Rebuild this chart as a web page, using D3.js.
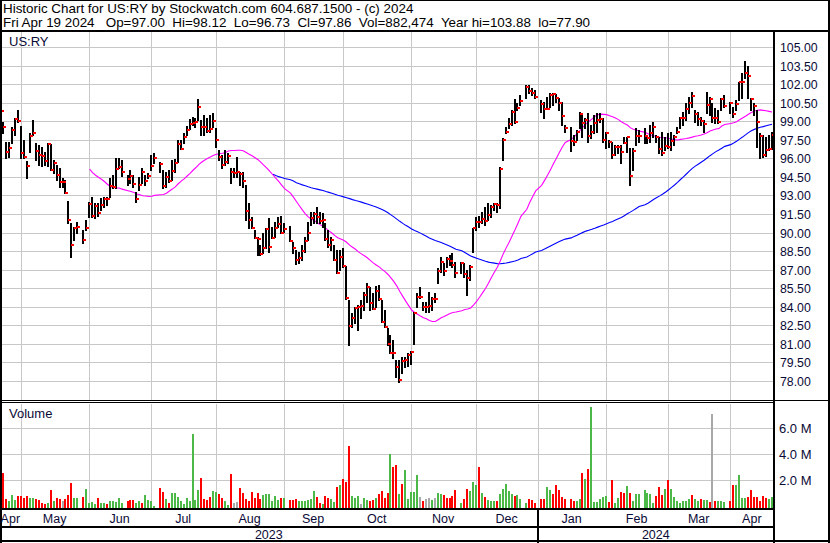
<!DOCTYPE html>
<html><head><meta charset="utf-8">
<script src="https://cdn.jsdelivr.net/npm/d3@7"></script>
<style>
body{margin:0;background:#fff}
svg{display:block}
text{font-family:"Liberation Sans",Arial,sans-serif}
</style>
</head><body>
<svg id="c" width="830" height="543"></svg>
<script>
// ---------------- DATA ----------------
const titleLine1 = "Historic Chart for US:RY by Stockwatch.com 604.687.1500 - (c) 2024";
const titleLine2 = "Fri Apr 19 2024   Op=97.00  Hi=98.12  Lo=96.73  Cl=97.86  Vol=882,474  Year hi=103.88  lo=77.90";
const symbol = "US:RY";
const weekdaySlots = 262;                 // weekdays Apr 20 2023 .. Apr 19 2024
const monthStarts = [7,30,51,73,96,116,139,161,182,205,226,247];
const monthLabels = ["Apr","May","Jun","Jul","Aug","Sep","Oct","Nov","Dec","Jan","Feb","Mar","Apr"];
const yearLabels = ["2023","2024"];
const yearStart = 182;
const priceTicks = [105,103.5,102,100.5,99,97.5,96,94.5,93,91.5,90,88.5,87,85.5,84,82.5,81,79.5,78];
const volumeTicks = [2,4,6];   // millions

const highs = [
100.05,98.96,97.34,97.34,98.51,99.24,99.91,98.61,97.48,95.78,
98.02,99.10,97.22,97.08,96.94,96.54,97.26,97.16,95.87,95.46,
95.19,94.39,94.25,92.55,90.75,90.47,90.88,null,90.21,91.02,
92.50,92.85,92.37,92.37,92.77,92.85,92.90,94.39,94.65,96.00,
96.00,95.90,null,94.65,95.06,94.65,93.30,94.47,95.19,94.65,
94.79,96.27,96.46,null,95.73,95.06,94.92,95.06,95.87,95.92,
97.48,97.48,98.02,98.64,99.16,99.37,99.24,100.77,99.10,99.50,
99.24,99.50,99.64,98.43,96.67,96.27,96.67,96.41,95.19,95.19,
96.13,94.92,94.92,93.84,92.37,91.28,90.21,89.67,89.00,89.94,
90.34,91.15,90.47,90.88,91.28,91.34,90.75,null,90.53,89.26,
88.59,88.45,89.00,89.67,90.88,91.64,91.69,92.04,91.69,91.56,
90.75,90.21,89.67,89.00,88.59,88.59,88.73,87.30,84.55,83.47,
84.01,84.14,84.55,85.22,85.95,85.62,85.09,85.68,85.76,84.55,
83.74,82.26,81.72,81.31,79.70,79.70,79.96,79.94,80.26,80.43,
83.60,85.09,85.62,84.41,84.41,85.22,84.82,85.09,87.11,88.05,
87.51,88.05,88.19,88.32,87.64,null,87.64,87.51,86.97,87.38,
90.39,91.28,91.34,91.69,92.09,92.37,92.23,92.41,92.37,95.32,
97.62,98.56,99.24,99.91,100.77,100.45,101.12,null,101.93,101.93,
101.66,101.52,null,100.72,100.58,100.98,101.26,101.26,101.20,100.85,
100.58,98.70,null,98.56,97.89,98.29,99.77,99.64,99.24,99.64,
98.70,99.50,99.64,99.64,99.24,98.15,97.48,97.34,97.08,97.08,
97.08,97.75,97.75,96.81,96.81,98.43,98.29,null,98.43,97.89,
98.70,98.96,97.89,97.75,98.15,97.75,98.02,98.15,97.89,98.56,
99.37,99.77,100.45,100.98,101.39,99.91,99.77,99.37,99.10,101.39,
100.98,100.45,100.05,99.91,100.85,101.12,null,100.58,100.17,100.72,
102.20,102.90,103.88,103.46,100.85,100.45,99.91,98.02,97.89,97.75,
97.89,98.12];

const lows = [
98.83,98.07,96.00,96.13,97.26,97.89,98.96,96.00,96.00,94.43,
96.54,97.89,95.87,95.46,95.38,95.46,95.38,95.06,94.79,94.25,
93.71,93.71,93.17,90.80,88.05,89.40,89.94,null,89.13,90.21,
91.28,91.28,91.15,91.34,91.82,92.04,92.23,92.90,93.58,93.58,
95.19,94.60,null,93.84,93.98,93.71,92.50,93.44,93.98,93.84,
94.39,95.06,95.65,null,94.92,93.58,93.71,94.11,94.25,94.92,
95.73,96.73,97.22,97.89,98.37,98.70,98.56,99.10,97.89,97.89,
98.15,98.15,98.56,96.94,95.87,95.19,95.46,95.60,93.98,94.52,
94.52,93.84,93.71,91.02,90.34,90.34,89.54,88.19,88.19,88.32,
88.73,88.45,89.54,89.67,90.47,89.94,90.07,null,89.32,88.32,
87.46,87.51,87.78,88.45,89.40,90.61,90.80,90.80,90.75,90.47,
89.40,88.86,88.59,87.78,86.75,86.97,87.24,84.60,80.91,82.39,
82.66,82.12,83.07,83.74,84.41,83.74,83.80,84.01,84.55,82.79,
82.39,80.91,80.24,79.86,78.35,77.90,78.62,79.13,79.21,79.37,
80.99,84.01,84.68,83.74,83.60,83.60,83.74,84.41,85.90,86.84,
86.57,87.24,87.38,87.19,86.43,null,86.71,86.43,84.95,86.16,
88.45,90.21,90.47,90.75,90.61,91.02,91.28,91.82,91.69,91.96,
95.87,98.02,98.43,98.70,98.83,99.91,100.31,null,100.85,101.26,
101.12,100.85,null,99.77,99.24,99.99,100.17,100.31,100.58,99.91,
98.70,98.15,null,96.62,97.08,97.48,98.43,97.75,98.43,97.34,
97.62,98.02,98.15,98.96,97.34,96.81,96.94,96.00,96.27,96.41,
95.60,97.26,96.54,93.84,95.06,97.08,97.34,null,97.22,97.22,
97.34,97.75,97.34,96.41,96.27,96.67,96.81,96.67,97.08,98.02,
98.43,98.70,99.10,99.64,100.17,98.96,98.70,98.70,98.15,99.64,
99.50,98.96,98.83,98.83,99.91,100.17,null,99.64,99.37,99.91,
100.72,100.88,102.49,100.88,99.91,99.50,96.94,96.00,96.08,96.19,
96.67,96.73];

const closes = [
99.85,98.56,96.54,96.86,98.29,99.18,99.04,96.41,96.13,95.41,
97.83,98.07,96.62,96.27,96.19,95.81,97.16,95.06,95.60,94.68,
94.11,94.06,93.22,91.02,88.99,90.34,90.47,null,89.40,90.34,
92.31,91.36,92.15,91.56,92.23,92.71,92.69,93.76,93.71,95.14,
95.32,94.90,null,94.31,94.57,93.93,92.69,93.84,94.92,94.19,
94.60,95.38,96.00,null,95.54,93.74,94.47,94.19,95.00,95.65,
97.13,96.75,97.75,98.32,98.75,98.88,98.91,100.17,98.56,98.51,
98.23,98.37,99.02,97.48,96.08,95.46,95.73,96.21,94.92,94.84,
94.90,94.71,94.19,91.77,91.02,90.39,89.58,89.45,88.24,88.78,
90.26,88.86,89.58,90.34,90.69,89.99,90.26,null,89.34,88.78,
87.78,87.97,88.53,89.34,89.94,91.15,91.48,91.28,90.91,91.02,
89.50,89.02,89.40,87.78,86.75,88.00,87.30,84.73,82.47,83.07,
83.88,84.01,84.06,84.95,85.57,84.33,83.80,85.30,84.60,82.79,
82.39,80.97,80.29,80.26,79.11,78.08,79.62,79.70,80.10,80.34,
83.52,84.82,84.82,84.01,84.01,84.06,84.63,84.63,86.92,87.64,
86.92,87.84,87.73,87.38,86.75,null,87.51,86.65,86.35,87.24,
90.34,90.88,90.83,91.10,90.96,91.42,92.09,92.31,92.25,95.16,
97.48,98.10,98.75,99.77,98.91,100.09,100.64,null,101.79,101.47,
101.31,100.98,null,100.37,99.99,99.99,101.12,101.20,100.88,100.50,
99.45,98.48,null,97.43,97.35,98.15,99.58,98.83,99.10,97.81,
98.15,98.83,99.10,99.16,97.48,98.07,97.30,96.27,96.89,96.89,
96.54,97.26,97.70,94.57,96.62,97.81,97.81,null,97.81,97.62,
98.02,98.51,97.75,96.75,96.46,97.00,96.94,97.43,97.75,98.15,
99.29,99.24,99.96,100.50,101.04,99.58,99.18,99.04,98.75,100.31,
100.77,99.29,99.29,98.96,100.77,100.23,null,100.45,99.56,100.37,
102.17,102.17,102.90,102.66,100.77,100.23,98.94,97.81,96.27,96.67,
96.73,97.86];

const volumes = [   // millions of shares
1.26,2.57,0.56,0.41,0.87,0.49,0.79,0.79,0.66,0.79,
0.66,0.62,0.56,0.49,0.28,0.21,0.28,1.26,0.41,0.62,
0.54,0.41,0.54,0.87,1.79,0.66,0.66,null,0.72,1.33,
0.26,0.36,0.21,0.62,0.26,0.26,0.21,0.41,0.41,0.36,
0.66,0.23,null,0.41,0.49,0.49,0.26,0.41,0.26,0.87,
0.49,0.41,0.05,null,1.41,1.10,0.56,0.26,1.03,1.03,
0.72,0.41,0.18,0.64,0.41,5.56,0.49,1.26,2.17,0.56,
0.49,0.72,1.18,1.10,0.95,0.64,0.41,0.10,2.48,0.26,
0.33,1.41,1.03,0.56,0.41,1.10,0.64,1.03,0.56,0.87,
0.95,0.95,0.41,0.79,0.49,0.64,0.64,null,0.49,0.49,
0.56,0.41,0.41,0.41,0.49,0.56,1.18,0.72,0.26,0.18,
0.79,0.64,0.56,0.33,1.49,1.64,2.10,1.87,4.64,0.79,
0.64,0.79,0.18,0.64,0.49,0.41,0.49,0.64,0.95,1.18,
0.64,1.03,4.02,3.02,3.18,0.95,1.71,2.79,0.56,1.13,
1.10,2.41,0.74,0.41,0.56,0.64,0.49,0.64,1.03,0.95,
0.87,0.64,0.64,0.79,1.26,null,0.26,0.56,1.33,1.18,
1.87,1.64,3.02,1.03,0.72,0.49,0.41,0.41,0.41,0.95,
1.33,1.71,1.18,0.95,0.79,0.87,0.56,null,0.26,0.56,
0.49,0.26,null,0.56,0.56,1.49,1.26,0.95,1.64,1.26,
0.72,0.56,null,0.56,0.41,0.41,0.56,2.56,2.10,2.87,
7.64,0.33,0.33,0.56,0.72,0.79,0.33,2.02,0.26,0.64,
1.10,1.03,1.56,1.03,0.41,0.95,0.95,null,1.26,1.03,
0.95,0.26,0.79,1.49,0.87,1.33,2.02,1.33,0.72,0.41,
0.26,0.41,0.41,0.56,0.87,0.56,0.41,0.56,0.49,0.49,
0.33,7.10,0.41,0.41,0.41,0.31,null,0.41,1.64,1.64,
2.41,0.64,0.64,0.72,1.26,0.72,0.72,0.41,0.79,0.64,
0.56,0.72];

// u = up, d = down, n = unchanged, - = market holiday
const volDir =
"ndduuudddd"+"uuddddudud"+"dnddduu-du"+"uuuduuduuu"+"uu-ddduudu"+
"uuu-dduduu"+"uuuuuuuudd"+"dduudduudn"+"nddddddddu"+"uuuuudu-dd"+
"duuuuuuddu"+"dduududddu"+"uunuuddudd"+"ddudduduuu"+"uundnnunuu"+
"ddddd-uddu"+"uududuuudu"+"uuuuduu-ud"+"dd-dduuddd"+"dd-dduudud"+
"uuuuuudduu"+"dduduuu-uu"+"uuddduduuu"+"uuuuduuduu"+"dnduuu-ddu"+
"uuuddddddd"+"uu";

const maShort = 30, maLong = 90;

// ---------------- CHART ----------------
const svg = d3.select("#c");
const W = 830, H = 543;
const plotRight = 773;
const mainTop = 32, mainBottom = 400, volTop = 404, volBottom = 508;

const x = d3.scaleLinear().domain([0, weekdaySlots]).range([0, 774]);
const y = d3.scaleLinear().domain([78, 105]).range([381, 47]);
const vy = d3.scaleLinear().domain([0, 6]).range([506.3, 428.3]);

const gridColor = "#c8c8c8";
const labelColor = "#0a0a36";

svg.append("rect").attr("width", W).attr("height", H).attr("fill", "#fff");

// grid
const g = svg.append("g").attr("shape-rendering", "crispEdges");
priceTicks.forEach(t => {
  const yy = Math.round(y(t)) + 0.5;
  g.append("line").attr("x1", 0).attr("x2", plotRight).attr("y1", yy).attr("y2", yy)
    .attr("stroke", gridColor);
});
volumeTicks.forEach(t => {
  const yy = Math.round(vy(t)) + 0.5;
  g.append("line").attr("x1", 0).attr("x2", plotRight).attr("y1", yy).attr("y2", yy)
    .attr("stroke", gridColor);
});
monthStarts.forEach(m => {
  const xx = Math.round(x(m)) + 0.5;
  g.append("line").attr("x1", xx).attr("x2", xx).attr("y1", mainTop).attr("y2", mainBottom).attr("stroke", gridColor);
  g.append("line").attr("x1", xx).attr("x2", xx).attr("y1", volTop).attr("y2", volBottom).attr("stroke", gridColor);
});

// moving averages
function sma(n) {
  const out = [], vals = [];
  closes.forEach((c, i) => {
    if (c == null) return;
    vals.push(c);
    if (vals.length >= n) out.push([i, d3.mean(vals.slice(-n))]);
  });
  return out;
}
const line = d3.line().x(d => x(d[0]) + 1).y(d => y(d[1]));
svg.append("path").attr("d", line(sma(maLong))).attr("fill", "none")
  .attr("stroke", "#0000ff").attr("stroke-width", 1.1);
svg.append("path").attr("d", line(sma(maShort))).attr("fill", "none")
  .attr("stroke", "#ff00ff").attr("stroke-width", 1.1);

// price bars: black high-low lines first, red close ticks on top
const idx = d3.range(weekdaySlots).filter(i => closes[i] != null);
const bars = svg.append("g").attr("shape-rendering", "crispEdges");
bars.selectAll("rect.hl").data(idx).join("rect").attr("class", "hl")
  .attr("x", i => Math.floor(x(i)))
  .attr("y", i => Math.round(y(highs[i])))
  .attr("width", 2)
  .attr("height", i => Math.max(1, Math.round(y(lows[i])) - Math.round(y(highs[i])) + 1))
  .attr("fill", "#000");
bars.selectAll("rect.cl").data(idx).join("rect").attr("class", "cl")
  .attr("x", i => Math.floor(x(i)) + 1)
  .attr("y", i => Math.round(y(closes[i])) - 1)
  .attr("width", 3).attr("height", 2)
  .attr("fill", "#ff0000");

// volume bars
const volColor = {u: "#4cb848", d: "#ff0000", n: "#a8a8a8"};
const vIdx = d3.range(weekdaySlots).filter(i => volumes[i] != null);
svg.append("g").attr("shape-rendering", "crispEdges")
  .selectAll("rect").data(vIdx).join("rect")
  .attr("x", i => Math.floor(x(i)))
  .attr("y", i => vy(volumes[i]))
  .attr("width", 2)
  .attr("height", i => volBottom + 1 - vy(volumes[i]))
  .attr("fill", i => volColor[volDir[i]]);

// frame lines
const f = svg.append("g").attr("fill", "#000").attr("shape-rendering", "crispEdges");
f.append("rect").attr("x", 0).attr("y", 0).attr("width", W).attr("height", 1);
f.append("rect").attr("x", 0).attr("y", 0).attr("width", 2).attr("height", H);
f.append("rect").attr("x", 828).attr("y", 0).attr("width", 2).attr("height", H);
f.append("rect").attr("x", 0).attr("y", 540).attr("width", W).attr("height", 2);
f.append("rect").attr("x", 0).attr("y", 30).attr("width", W).attr("height", 2);
f.append("rect").attr("x", 773).attr("y", 30).attr("width", 2).attr("height", H - 30);
f.append("rect").attr("x", 0).attr("y", 400).attr("width", W).attr("height", 1);
f.append("rect").attr("x", 0).attr("y", 402).attr("width", plotRight).attr("height", 1);
f.append("rect").attr("x", 0).attr("y", 508).attr("width", plotRight).attr("height", 2);
f.append("rect").attr("x", 0).attr("y", 526).attr("width", plotRight).attr("height", 2);
f.append("rect").attr("x", Math.round(x(yearStart)) - 1).attr("y", 508).attr("width", 2).attr("height", H - 508);

// header text
svg.append("text").attr("x", 3).attr("y", 12.5).attr("font-size", 13.4).attr("fill", "#000")
  .style("white-space", "pre").text(titleLine1);
svg.append("text").attr("x", 3).attr("y", 27).attr("font-size", 13.4).attr("fill", "#000")
  .style("white-space", "pre").text(titleLine2);

// panel labels
svg.append("text").attr("x", 9).attr("y", 45.5).attr("font-size", 13).attr("fill", labelColor).text(symbol);
svg.append("text").attr("x", 9).attr("y", 418).attr("font-size", 13).attr("fill", labelColor).text("Volume");

// price axis labels
priceTicks.forEach(t => {
  svg.append("text").attr("x", 780).attr("y", y(t) + 5).attr("font-size", 12.3)
    .attr("fill", labelColor).text(d3.format(".2f")(t));
});
volumeTicks.forEach(t => {
  svg.append("text").attr("x", 779).attr("y", vy(t) + 5).attr("font-size", 13)
    .attr("fill", labelColor).text(d3.format(".1f")(t) + " M");
});

// month labels
const bounds = [0, ...monthStarts, weekdaySlots];
monthLabels.forEach((m, k) => {
  const cx = (x(bounds[k]) + x(bounds[k + 1])) / 2;
  svg.append("text").attr("x", cx).attr("y", 523).attr("font-size", 12.5)
    .attr("text-anchor", "middle").attr("fill", labelColor).text(m);
});
// year labels
const yb = [0, yearStart, weekdaySlots];
yearLabels.forEach((yl, k) => {
  const cx = (x(yb[k]) + x(yb[k + 1])) / 2;
  svg.append("text").attr("x", cx).attr("y", 539).attr("font-size", 12.5)
    .attr("text-anchor", "middle").attr("fill", labelColor).text(yl);
});
</script>
</body></html>
